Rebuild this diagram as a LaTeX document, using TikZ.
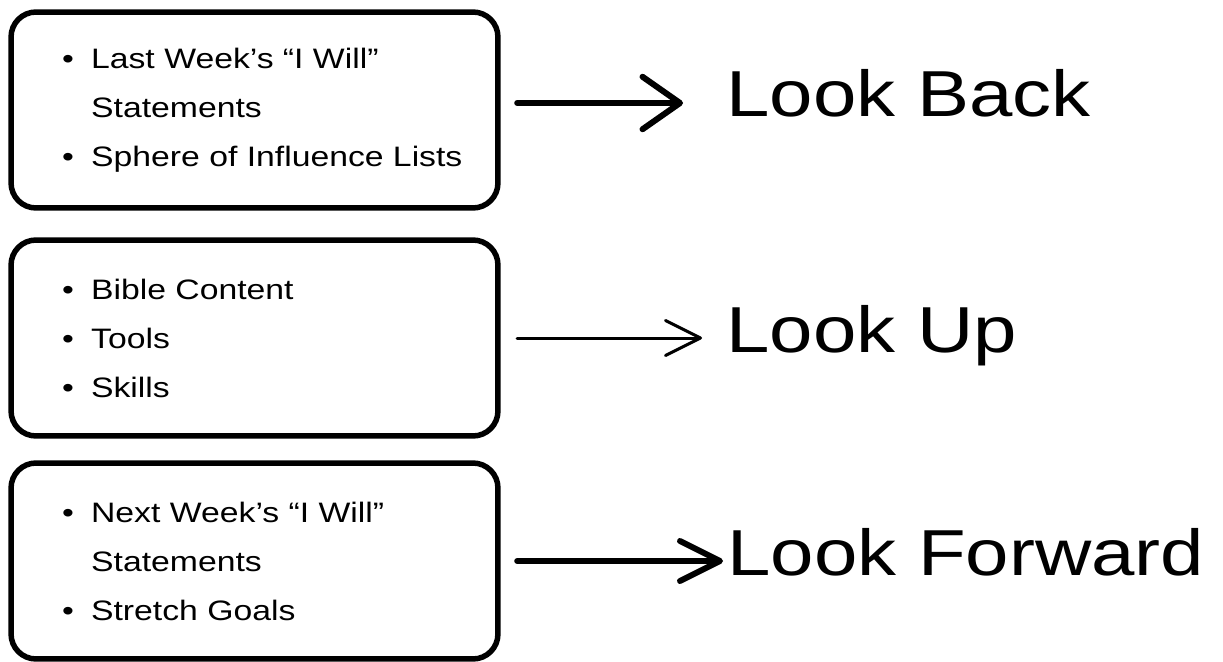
\documentclass[tikz,border=0pt]{standalone}
\usepackage{fontspec}
\setmainfont[FakeStretch=1.2]{Liberation Sans}
\usetikzlibrary{positioning,arrows.meta}

\newcommand{\itemdot}{\makebox[0.58cm][l]{\textbullet}}
\newcommand{\itemgap}{\hspace*{0.58cm}}

\begin{document}
\begin{tikzpicture}[x=0.02cm, y=-0.02cm,
    listbox/.style = {draw, line width=0.11cm, rounded corners=0.5cm, minimum width=9.74cm, minimum height=3.92cm},
    listtext/.style = {inner sep=0pt, align=left, font=\fontsize{16pt}{27.9pt}\selectfont},
    looklabel/.style = {inner sep=0pt, anchor=base west, font=\fontsize{37pt}{44pt}\selectfont},
    flow/.style = {line width=0.12cm, line cap=round, shorten <=0.33cm, -{Straight Barb[round, length=0.75cm, width=1.05cm]}}]
    \useasboundingbox (0,0) rectangle (1223,662);

    \node[listbox] (backbox) at (254.5,110) {};
    \node[listbox] (upbox) at (254.5,338) {};
    \node[listbox] (forwardbox) at (254.5,561) {};

    \node[listtext, right=1.07cm of backbox.west] (backlist)
        {\itemdot Last Week’s “I Will”\\ \itemgap Statements\\ \itemdot Sphere of Influence Lists};
    \node[listtext, right=1.07cm of upbox.west] (uplist)
        {\itemdot Bible Content\\ \itemdot Tools\\ \itemdot Skills};
    \node[listtext, right=1.07cm of forwardbox.west] (forwardlist)
        {\itemdot Next Week’s “I Will”\\ \itemgap Statements\\ \itemdot Stretch Goals};

    \node[looklabel] (backlabel) at (726,117) {Look Back};
    \node[looklabel] (uplabel) at (726,352) {Look Up};
    \node[looklabel] (forwardlabel) at (727,575) {Look Forward};

    % arrow ends, a little above each baseline
    \coordinate (backend) at ([yshift=0.28cm]backlabel.base west);
    \coordinate (upend) at ([yshift=0.28cm]uplabel.base west);
    \coordinate (forwardend) at ([yshift=0.28cm]forwardlabel.base west);

    \draw[flow, shorten >=0.86cm] (backbox.east |- backend) -- (backend);
    \draw[flow, line width=0.06cm, shorten >=0.48cm, -{Straight Barb[round, length=0.7cm, width=0.7cm]}] (upbox.east |- upend) -- (upend);
    \draw[flow, shorten >=0.08cm, -{Straight Barb[round, length=0.8cm, width=0.8cm]}] (forwardbox.east |- forwardend) -- (forwardend);
\end{tikzpicture}
\end{document}
